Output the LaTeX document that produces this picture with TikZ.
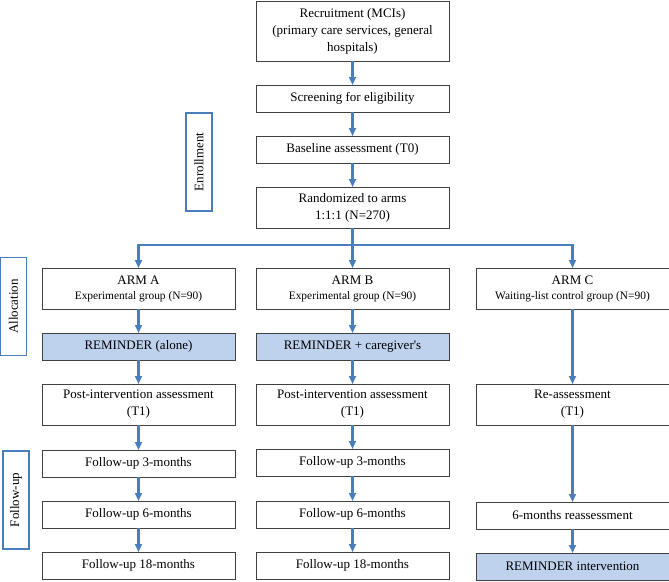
\documentclass[tikz,border=0pt]{standalone}
\usepackage{fontspec}
\setmainfont{Liberation Serif}
\usepackage{tikz}
\usetikzlibrary{positioning,arrows.meta,calc}

\definecolor{flowblue}{RGB}{74,126,187}
\definecolor{remfill}{RGB}{190,210,238}
\newcommand{\armsub}[1]{{\fontsize{11.4}{14}\selectfont #1}}

\begin{document}
\begin{tikzpicture}[
    node distance=24pt,
    box/.style={rectangle, draw=black!75, line width=0.9pt, outer sep=0pt, minimum width=193pt, minimum height=27pt, align=center, inner sep=1pt, font=\fontsize{13}{17}\selectfont},
    rembox/.style={box, fill=remfill},
    phase/.style={rectangle, draw=flowblue, line width=1.6pt, rotate=90, minimum width=98pt, minimum height=26pt, inner sep=1pt, font=\fontsize{13}{15}\selectfont},
    arrow/.style={-{Triangle[width=7pt,length=8pt]}, line width=2.2pt, flowblue},
    line/.style={line width=2.2pt, flowblue}
]
\useasboundingbox (0,0) rectangle (669pt,-581pt);

% enrollment
\node[box, minimum height=60pt] (recruit) at (352.5pt,-31pt) {Recruitment (MCIs)\\(primary care services, general\\hospitals)};
\node[box, below=of recruit] (screen) {Screening for eligibility};
\node[box, below=of screen] (baseline) {Baseline assessment (T0)};
\node[box, minimum height=41pt, below=of baseline] (rand) {Randomized to arms\\1:1:1 (N=270)};

% arms
\node[box, minimum height=41pt, below=40pt of rand] (armB) {ARM B\\[-2pt]\armsub{Experimental group (N=90)}};
\node[box, minimum height=41pt, left=21pt of armB] (armA) {ARM A\\[-2pt]\armsub{Experimental group (N=90)}};
\node[box, minimum height=41pt, right=27pt of armB] (armC) {ARM C\\[-2pt]\armsub{Waiting-list control group (N=90)}};

% arm A
\node[rembox, below=of armA] (remA) {REMINDER (alone)};
\node[box, minimum height=41pt, below=of remA] (postA) {Post-intervention assessment\\(T1)};
\node[box, below=25pt of postA] (fuA3) {Follow-up 3-months};
\node[box, below=of fuA3] (fuA6) {Follow-up 6-months};
\node[box, below=of fuA6] (fuA18) {Follow-up 18-months};

% arm B
\node[rembox, below=of armB] (remB) {REMINDER + caregiver\textquotesingle s};
\node[box, minimum height=41pt, below=of remB] (postB) {Post-intervention assessment\\(T1)};
\node[box, below=of postB] (fuB3) {Follow-up 3-months};
\node[box, below=25pt of fuB3] (fuB6) {Follow-up 6-months};
\node[box, below=of fuB6] (fuB18) {Follow-up 18-months};

% arm C
\node[box, minimum height=41pt, below=75pt of armC] (reC) {Re-assessment\\(T1)};
\node[box, below=77pt of reC] (sixC) {6-months reassessment};
\node[rembox, below=of sixC] (remC) {REMINDER intervention};

% phase labels
\node[phase] (enroll) at (199pt,-162pt) {Enrollment};
\node[phase] (alloc) at (13.5pt,-306.5pt) {Allocation};
\node[phase] (follow) at (16pt,-500pt) {Follow-up};

% connectors
\draw[arrow] (recruit) -- (screen);
\draw[arrow] (screen) -- (baseline);
\draw[arrow] (baseline) -- (rand);
\coordinate[below=17pt of rand.south] (split);
\draw[line] (rand.south) -- (split);
\draw[arrow] (split) -| (armA.north);
\draw[arrow] (split) -- (armB.north);
\draw[arrow] (split) -| (armC.north);

\draw[arrow] (armA) -- (remA);
\draw[arrow] (remA) -- (postA);
\draw[arrow] (postA) -- (fuA3);
\draw[arrow] (fuA3) -- (fuA6);
\draw[arrow] (fuA6) -- (fuA18);

\draw[arrow] (armB) -- (remB);
\draw[arrow] (remB) -- (postB);
\draw[arrow] (postB) -- (fuB3);
\draw[arrow] (fuB3) -- (fuB6);
\draw[arrow] (fuB6) -- (fuB18);

\draw[arrow] (armC) -- (reC);
\draw[arrow] (reC) -- (sixC);
\draw[arrow] (sixC) -- (remC);

\end{tikzpicture}
\end{document}
